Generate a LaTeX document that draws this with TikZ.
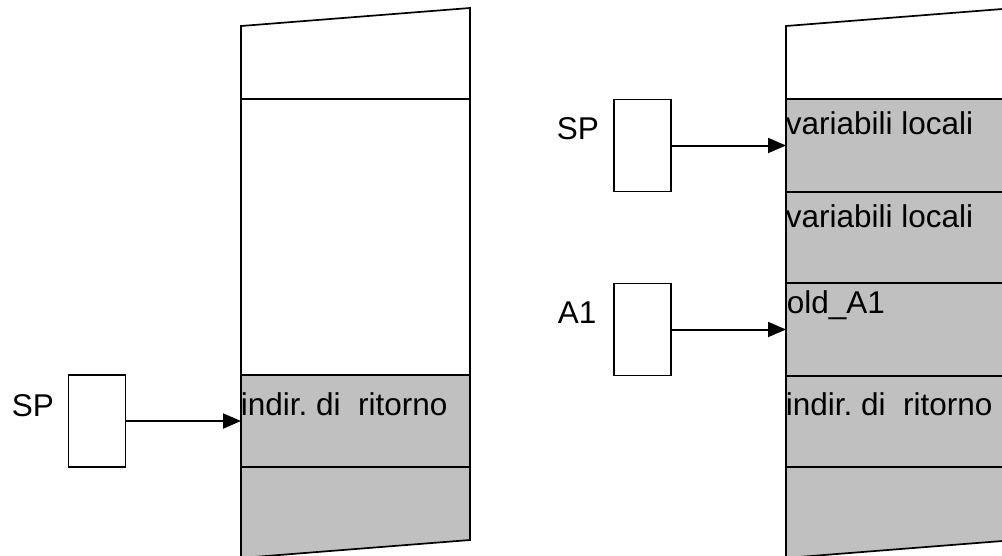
\documentclass[tikz,border=0pt]{standalone}
\usepackage{fontspec}
\setmainfont{Liberation Sans}
\usetikzlibrary{arrows.meta}
\definecolor{cellgray}{HTML}{C0C0C0}
\frenchspacing
\begin{document}
\begin{tikzpicture}[x=1pt,y=-1pt,line width=1.7pt]
    \tikzstyle{every node}+=[inner sep=0pt,font=\fontsize{31.5}{36}\selectfont]
    \tikzstyle{reg}=[draw,line width=1.3pt,minimum width=57pt,minimum height=92pt]
    \tikzstyle{ptr}=[line width=2pt,-{Triangle[length=18pt,width=15pt]}]
    \useasboundingbox (0,0) rectangle (1002,555);
    \clip (0,0) rectangle (1002,555);
    % left stack
    \fill [cellgray] (241,375) -- (470,375) -- (470,540) -- (241,558) -- cycle;
    \draw [black] (241,558) -- (241,26) -- (470,8) -- (470,540) -- cycle;
    \draw [black] (241,99) -- (470,99);
    \draw [black] (241,375) -- (470,375);
    \draw [black] (241,467) -- (470,467);
    \node [anchor=base west] (ret1) at (240,415) {indir. di\ \ ritorno};
    \node [reg] (sp1) at (97,421) {};
    \node [anchor=base west] (splbl1) at (11,416) {SP};
    \coordinate (lsp) at (241,421);
    \draw [ptr] (sp1) -- (lsp);
    % right stack
    \fill [cellgray] (786,99) -- (1015,99) -- (1015,540) -- (786,558) -- cycle;
    \draw [black] (786,558) -- (786,26) -- (1015,8) -- (1015,540) -- cycle;
    \foreach \y in {99,192,283,376,467}
        \draw [black] (786,\y) -- (1015,\y);
    \node [anchor=base west] (loc1) at (785,134) {variabili locali};
    \node [anchor=base west] (loc2) at (785,227) {variabili locali};
    \node [anchor=base west] (olda) at (786,313) {old\_A1};
    \node [anchor=base west] (ret2) at (785,415) {indir. di\ \ ritorno};
    \node [reg] (sp2) at (642.5,145.5) {};
    \node [anchor=base west] (splbl2) at (556,139) {SP};
    \node [reg] (a1) at (642.5,329.5) {};
    \node [anchor=base west] (albl) at (557,323) {A1};
    \coordinate (rsp) at (786,145.5);
    \coordinate (ra1) at (786,329.5);
    \draw [ptr] (sp2) -- (rsp);
    \draw [ptr] (a1) -- (ra1);
\end{tikzpicture}
\end{document}
